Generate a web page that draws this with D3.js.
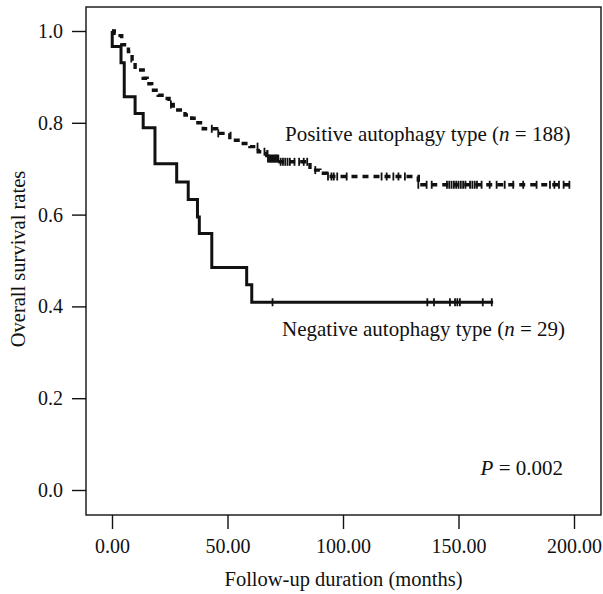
<!DOCTYPE html>
<html>
<head>
<meta charset="utf-8">
<script src="https://cdn.jsdelivr.net/npm/d3@7"></script>
<style>
  html, body { margin: 0; padding: 0; background: #fff; }
  svg { display: block; }
  text { font-family: "Liberation Serif", "Times New Roman", serif; fill: #111; }
</style>
</head>
<body>
<div id="chart"></div>
<script>
// ---------- DATA ----------
// Negative autophagy type (n = 29): event times (months) and survival after each step
const negTimes = [0.1, 3.9, 5.3, 10, 13.5, 18.6, 28, 33, 37, 37.8, 43.2, 58.3, 60.5];
const negSurv  = [0.966, 0.931, 0.857, 0.82, 0.789, 0.711, 0.671, 0.633, 0.595, 0.559, 0.485, 0.447, 0.409];
const negEnd = 165;
const negCensor = [69.5, 136.5, 139.4, 146.3, 148.5, 149.5, 150.6, 160.5, 164.4];

// Positive autophagy type (n = 188)
const posTimes = [1.0, 2.0, 4.2, 7.1, 8.7, 10, 13.5, 15.2, 17.2, 20, 23, 24.7, 26.5, 31.6, 34.5, 36.4, 39.5, 45.3, 51, 55.4, 59.7, 63.3, 67, 72.7, 85.7, 90, 93, 132.6];
const posSurv  = [0.995, 0.99, 0.97, 0.955, 0.935, 0.915, 0.897, 0.885, 0.871, 0.86, 0.853, 0.84, 0.828, 0.817, 0.81, 0.80, 0.787, 0.777, 0.762, 0.755, 0.748, 0.737, 0.722, 0.715, 0.697, 0.69, 0.683, 0.665];
const posEnd = 198.3;
const posCensor = [25.5, 43.2, 46, 63, 66, 67.5, 68, 68.5, 69, 69.5, 70, 70.5, 71, 71.5, 72, 73, 74, 75, 76, 77, 79, 81, 83, 84.5, 88,
  93.5, 95, 96, 97.5, 101.6, 116.7, 118.9, 121.8, 124, 126.8, 132.6, 136.2, 138.4,
  145, 146, 147, 148, 149, 150, 151, 152, 153, 155, 156, 157, 158, 160, 163.5, 166.5, 170, 173.7, 178, 183.8,
  189.6, 191.5, 193.5, 195.5, 198];

// Axis ticks
const xTicks = [0, 50, 100, 150, 200];
const yTicks = [0, 0.2, 0.4, 0.6, 0.8, 1.0];

// Labels
const xTitle = "Follow-up duration (months)";
const yTitle = "Overall survival rates";

// ---------- CHART ----------
const W = 603, H = 594;
const box = {left: 86, top: 7, right: 601, bottom: 515};

const svg = d3.select("#chart").append("svg").attr("width", W).attr("height", H);

const x = d3.scaleLinear().domain([0, 200]).range([112, 574]);
const y = d3.scaleLinear().domain([0, 1]).range([490, 31]);

// frame
svg.append("rect")
  .attr("x", box.left).attr("y", box.top)
  .attr("width", box.right - box.left).attr("height", box.bottom - box.top)
  .attr("fill", "none").attr("stroke", "#111").attr("stroke-width", 1.4);

// y axis
const yAxis = svg.append("g").attr("transform", `translate(${box.left},0)`)
  .call(d3.axisLeft(y).tickValues(yTicks).tickFormat(d3.format(".1f")).tickSize(14).tickPadding(9));
yAxis.select(".domain").remove();
yAxis.selectAll("line").attr("stroke", "#111").attr("stroke-width", 1.4);
yAxis.selectAll("text").attr("font-size", 20).attr("font-family", "Liberation Serif").attr("fill", "#111");

// x axis
const xAxis = svg.append("g").attr("transform", `translate(0,${box.bottom})`)
  .call(d3.axisBottom(x).tickValues(xTicks).tickFormat(d3.format(".2f")).tickSize(14).tickPadding(10));
xAxis.select(".domain").remove();
xAxis.selectAll("line").attr("stroke", "#111").attr("stroke-width", 1.4);
xAxis.selectAll("text").attr("font-size", 20).attr("font-family", "Liberation Serif").attr("fill", "#111");

// titles
svg.append("text").attr("x", (box.left + box.right) / 2).attr("y", 586)
  .attr("text-anchor", "middle").attr("font-size", 20.5).text(xTitle);
svg.append("text").attr("transform", `translate(25,${(box.top + box.bottom) / 2 - 2}) rotate(-90)`)
  .attr("text-anchor", "middle").attr("font-size", 20.5).text(yTitle);

// step curves
function stepPoints(times, surv, end) {
  const pts = [[0, 1]];
  times.forEach((t, i) => pts.push([t, surv[i]]));
  pts.push([end, surv[surv.length - 1]]);
  return pts;
}
function survAt(times, surv, t) {
  const i = d3.bisectRight(times, t);
  return i === 0 ? 1 : surv[i - 1];
}
const line = d3.line().x(d => x(d[0])).y(d => y(d[1])).curve(d3.curveStepAfter);

// Positive (dashed)
svg.append("path").datum(stepPoints(posTimes, posSurv, posEnd))
  .attr("d", line).attr("fill", "none").attr("stroke", "#111")
  .attr("stroke-width", 3.4).attr("stroke-dasharray", "6,5");
svg.append("g").selectAll("line").data(posCensor).join("line")
  .attr("x1", d => x(d)).attr("x2", d => x(d))
  .attr("y1", d => y(survAt(posTimes, posSurv, d)) - 4)
  .attr("y2", d => y(survAt(posTimes, posSurv, d)) + 4)
  .attr("stroke", "#111").attr("stroke-width", 1.8);

// Negative (solid)
svg.append("path").datum(stepPoints(negTimes, negSurv, negEnd))
  .attr("d", line).attr("fill", "none").attr("stroke", "#111")
  .attr("stroke-width", 3);
svg.append("g").selectAll("line").data(negCensor).join("line")
  .attr("x1", d => x(d)).attr("x2", d => x(d))
  .attr("y1", d => y(survAt(negTimes, negSurv, d)) - 4)
  .attr("y2", d => y(survAt(negTimes, negSurv, d)) + 4)
  .attr("stroke", "#111").attr("stroke-width", 1.8);

// labels
const posLab = svg.append("text").attr("x", 285).attr("y", 141).attr("font-size", 21);
posLab.append("tspan").text("Positive autophagy type (");
posLab.append("tspan").attr("font-style", "italic").text("n");
posLab.append("tspan").text(" = 188)");

const negLab = svg.append("text").attr("x", 282).attr("y", 336).attr("font-size", 21);
negLab.append("tspan").text("Negative autophagy type (");
negLab.append("tspan").attr("font-style", "italic").text("n");
negLab.append("tspan").text(" = 29)");

const pLab = svg.append("text").attr("x", 563).attr("y", 475).attr("text-anchor", "end").attr("font-size", 21);
pLab.append("tspan").attr("font-style", "italic").text("P");
pLab.append("tspan").text(" = 0.002");
</script>
</body>
</html>
